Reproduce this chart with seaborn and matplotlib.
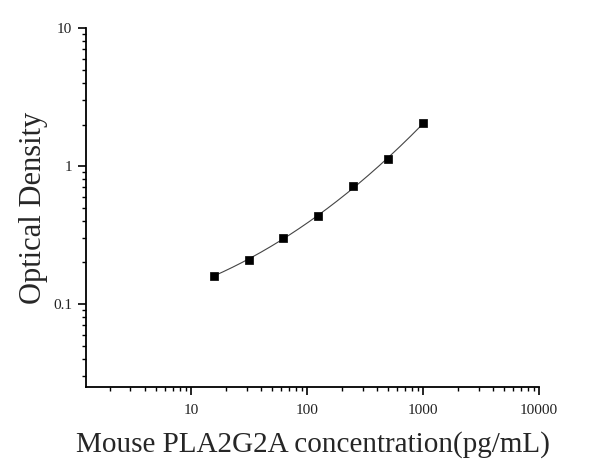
import numpy as np
import pandas as pd
import matplotlib
matplotlib.use('Agg')
import matplotlib.pyplot as plt
import seaborn as sns
from matplotlib.ticker import LogLocator, FixedFormatter, FixedLocator, NullFormatter

concentration = [15.6, 31.25, 62.5, 125, 250, 500, 1000]
optical_density = [0.160, 0.209, 0.301, 0.434, 0.716, 1.12, 2.05]
x_ticks = [10, 100, 1000, 10000]
x_tick_labels = ['10', '100', '1000', '10000']
y_ticks = [0.1, 1, 10]
y_tick_labels = ['0.1', '1', '10']

df = pd.DataFrame({'conc': concentration, 'od': optical_density})

# smooth curve: cubic fit in log-log space
coef = np.polyfit(np.log10(df['conc']), np.log10(df['od']), 3)
xs = np.logspace(np.log10(min(concentration)), np.log10(max(concentration)), 200)
fit = pd.DataFrame({'conc': xs, 'od': 10 ** np.polyval(coef, np.log10(xs))})

sns.set_style('ticks')
plt.rcParams['font.family'] = ['Liberation Serif', 'DejaVu Serif']

fig = plt.figure(figsize=(6.12, 4.68), dpi=100)
ax = fig.add_axes([0.1405, 0.173, 0.7405, 0.767])

sns.lineplot(data=fit, x='conc', y='od', ax=ax, color='#444444', linewidth=0.8)
sns.scatterplot(data=df, x='conc', y='od', ax=ax, marker='s', s=40, color='black',
                edgecolor='black', linewidth=0.5, zorder=3)

ax.set_xscale('log')
ax.set_yscale('log')
ax.set_xlim(1.24, 10000)
ax.set_ylim(0.025, 10)

ax.xaxis.set_major_locator(FixedLocator(x_ticks))
ax.xaxis.set_major_formatter(FixedFormatter(x_tick_labels))
ax.yaxis.set_major_locator(FixedLocator(y_ticks))
ax.yaxis.set_major_formatter(FixedFormatter(y_tick_labels))
ax.xaxis.set_minor_locator(LogLocator(base=10, subs=np.arange(2, 10), numticks=20))
ax.yaxis.set_minor_locator(LogLocator(base=10, subs=np.arange(2, 10), numticks=20))
ax.xaxis.set_minor_formatter(NullFormatter())
ax.yaxis.set_minor_formatter(NullFormatter())

ax.tick_params(axis='both', which='major', direction='out', length=6, width=1.2,
               labelsize=11, colors='black', labelcolor='#222222')
ax.tick_params(axis='x', which='major', pad=6)
ax.tick_params(axis='y', which='major', pad=4)
ax.tick_params(axis='both', which='minor', direction='out', length=3, width=1.0, colors='black')

sns.despine(ax=ax)
for side in ['left', 'bottom']:
    ax.spines[side].set_linewidth(1.3)
    ax.spines[side].set_color('black')

ax.set_xlabel('Mouse PLA2G2A concentration(pg/mL)', fontsize=21, labelpad=10)
ax.set_ylabel('Optical Density', fontsize=22, labelpad=4)

fig.savefig('out.png', dpi=100)
